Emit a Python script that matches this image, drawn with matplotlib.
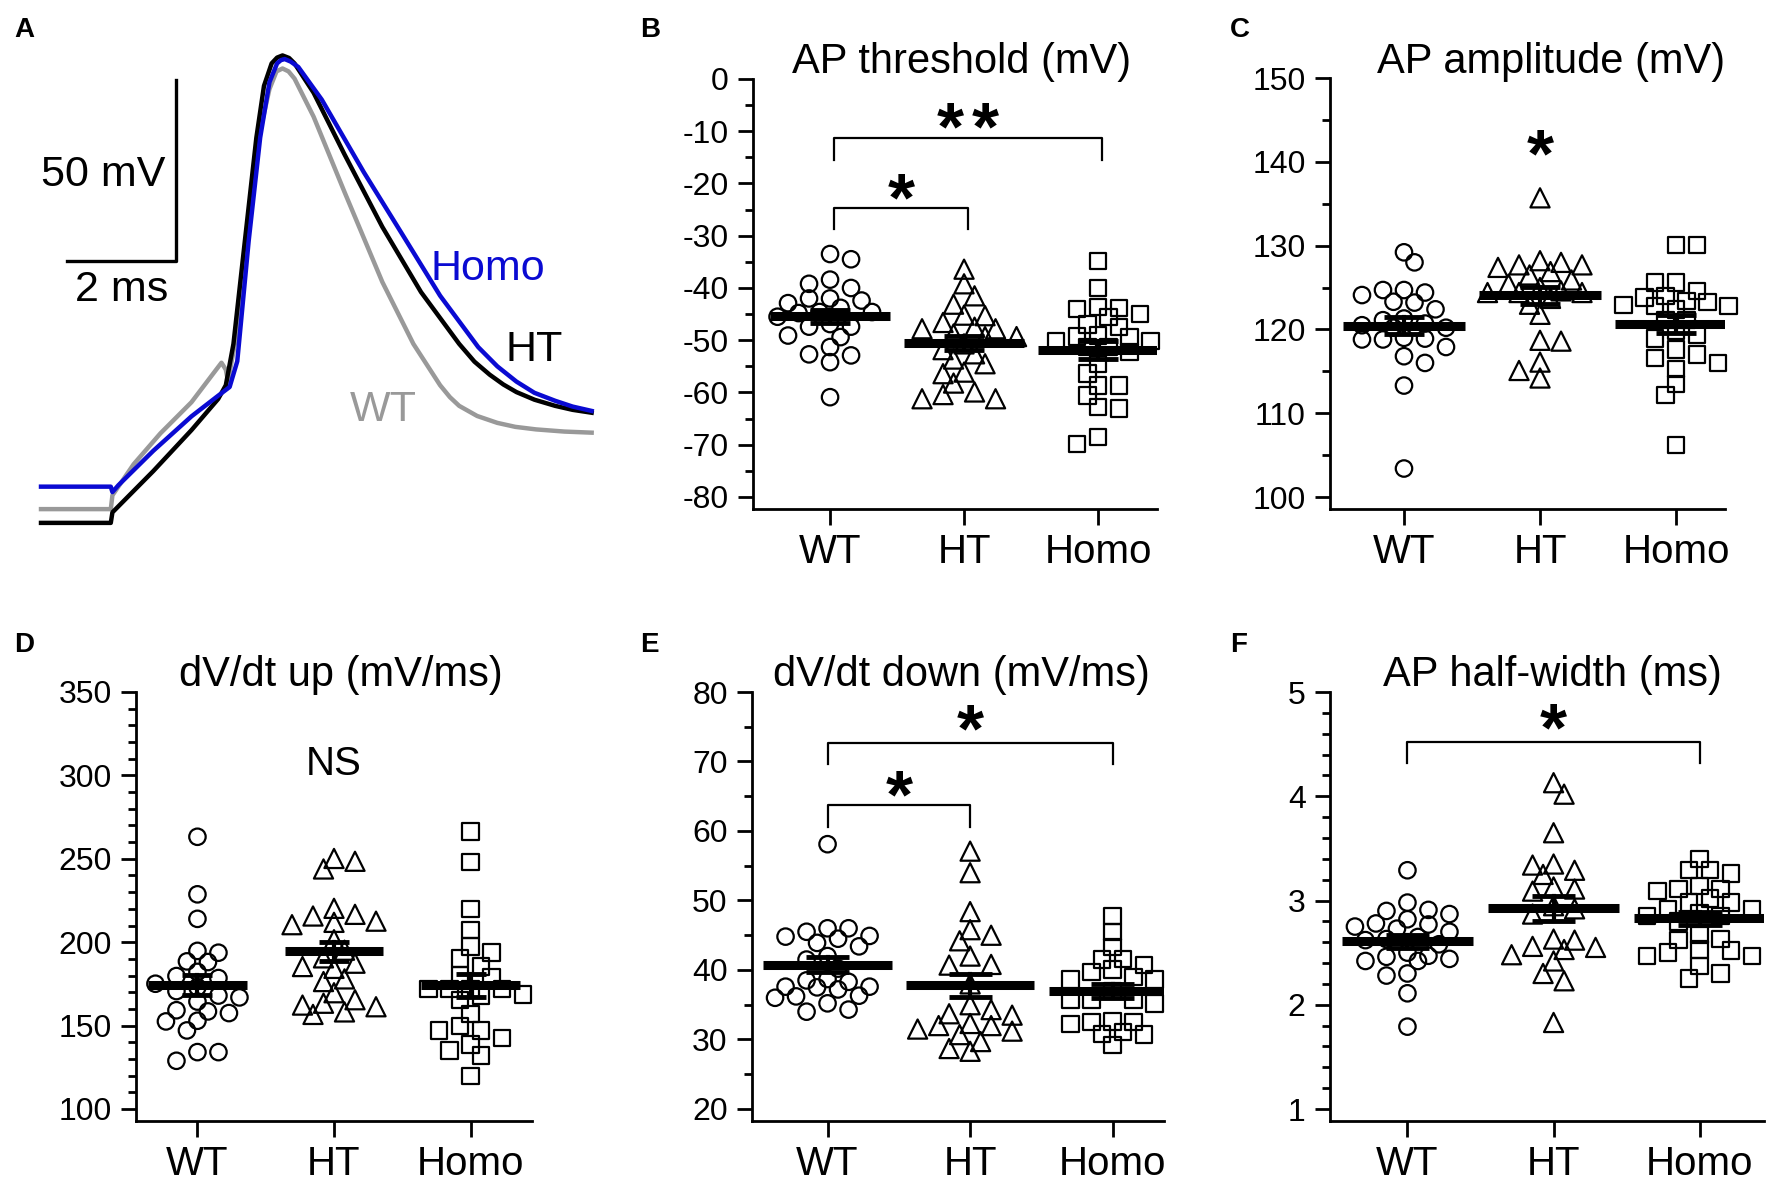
import numpy as np
import matplotlib
matplotlib.use('Agg')
import matplotlib.pyplot as plt
from matplotlib.ticker import MultipleLocator

plt.rcParams['font.family'] = ['Liberation Sans', 'DejaVu Sans']
plt.rcParams['axes.unicode_minus'] = False

W, H = 1775, 1187
groups = ['WT', 'HT', 'Homo']

# ---- panel A : averaged AP traces (ms, mV) ----
t_wt = [0, 1.28, 1.31, 1.70, 2.19, 2.76, 3.31, 3.39, 3.43, 3.60, 3.81, 4.02, 4.19, 4.32, 4.43, 4.54,
        4.65, 5.0, 5.57, 6.26, 6.83, 7.32, 7.50, 7.67, 8.0, 8.37, 8.7, 9.08, 9.6, 10.1]
v_wt = [-76.2, -76.2, -72.4, -63.8, -55.3, -46.7, -35.8, -37.7, -41.0, -26.8, 2.7, 28.2, 39.7, 44.6,
        45.4, 44.6, 42.6, 32.1, 11.2, -13.5, -30.6, -42.0, -45.3, -47.7, -50.5, -52.4, -53.5, -54.2,
        -54.8, -55.1]
t_ht = [0, 1.28, 1.31, 2.06, 2.76, 3.25, 3.39, 3.53, 3.74, 3.95, 4.09, 4.23, 4.33, 4.43, 4.55, 4.65,
        5.0, 5.57, 6.26, 6.97, 7.67, 7.95, 8.23, 8.48, 8.72, 9.05, 9.43, 9.75, 10.1]
v_ht = [-80, -80, -77.1, -65.7, -54.4, -45.8, -42.0, -30.6, -2.1, 26.3, 40.6, 46.8, 48.4, 49.0, 48.3,
        46.8, 38.7, 21.6, 1.7, -16.3, -30.6, -35.5, -39.1, -41.8, -43.9, -46.0, -47.7, -48.8, -49.6]
t_homo = [0, 1.28, 1.31, 1.42, 2.06, 2.76, 3.25, 3.46, 3.60, 3.81, 4.02, 4.19, 4.33, 4.40, 4.47, 4.58,
          4.72, 5.15, 5.92, 6.62, 7.32, 8.02, 8.37, 8.72, 9.05, 9.43, 9.75, 10.1]
v_homo = [-70.0, -70.0, -71.5, -69.6, -60.1, -50.6, -44.9, -42.5, -35.4, -2.1, 26.3, 41.6, 46.8, 47.7,
          48.0, 47.3, 45.8, 36.8, 16.8, -0.2, -17.3, -31.5, -36.8, -41.0, -44.1, -46.3, -47.9, -49.1]

# ---- panel B : AP threshold (mV) ----
thr_wt = [-33.5, -34.5, -38.4, -39.2, -40.0, -42.0, -42.0, -42.4, -42.9, -43.8, -44.8, -44.6, -44.6,
          -45.5, -47.4, -46.9, -47.4, -49.4, -49.1, -51.3, -52.7, -52.9, -54.2, -60.9]
thr_ht = [-36.4, -39.2, -41.5, -43.1, -45.2, -45.3, -46.6, -47.5, -47.8, -47.8, -48.8, -49.3, -49.3,
          -52.6, -53.6, -56.1, -56.4, -58.2, -60.4, -59.9, -61.2, -61.2, -50.7, -51.8, -54.5]
thr_homo = [-34.8, -40.0, -43.6, -43.8, -44.0, -45.6, -45.0, -47.0, -47.5, -50.1, -50.1, -49.4, -49.3,
            -49.1, -51.3, -52.3, -51.3, -54.5, -56.4, -58.7, -58.7, -60.6, -62.8, -63.1, -68.5, -69.9]

# ---- panel C : AP amplitude (mV) ----
amp_wt = [129.2, 128.0, 124.4, 124.1, 124.7, 124.7, 122.4, 123.2, 123.3, 120.7, 121.1, 120.5, 121.3,
          120.2, 118.8, 118.8, 120.2, 118.9, 119.0, 117.9, 116.0, 116.8, 113.3, 103.4]
amp_ht = [135.7, 127.4, 128.2, 127.7, 127.7, 128.0, 126.5, 126.9, 125.9, 125.0, 125.4, 124.4, 124.4,
          124.6, 124.4, 123.7, 123.0, 121.8, 118.6, 118.7, 116.1, 115.1, 114.2]
amp_homo = [130.1, 130.1, 125.6, 125.6, 124.6, 124.0, 123.8, 123.4, 122.8, 122.8, 123.3, 122.9, 122.4,
            121.1, 121.1, 119.8, 119.4, 118.9, 117.6, 116.6, 117.0, 116.0, 115.3, 113.5, 112.2, 106.2]

# ---- panel D : dV/dt up (mV/ms) ----
up_wt = [263.2, 228.7, 214.0, 194.8, 193.7, 188.1, 188.5, 173.0, 182.2, 179.7, 178.5, 170.7, 168.0,
         164.4, 166.9, 175.1, 159.2, 158.5, 157.5, 152.5, 152.9, 147.1, 134.1, 134.1, 128.9]
up_ht = [250.2, 248.5, 243.9, 220.3, 216.7, 215.7, 211.9, 210.5, 212.6, 201.5, 195.2, 190.6, 187.4,
         184.3, 185.4, 178.0, 176.4, 169.7, 165.5, 162.3, 163.4, 161.3, 158.2, 156.7]
up_homo = [266.3, 248.1, 219.9, 207.3, 197.3, 193.7, 190.2, 185.4, 180.1, 179.1, 171.8, 171.8, 171.8,
           171.8, 168.6, 168.0, 165.5, 157.1, 149.8, 147.1, 147.1, 142.5, 138.7, 135.1, 132.0, 119.9]

# ---- panel E : dV/dt down (mV/ms) ----
down_wt = [58.1, 46.0, 46.0, 44.8, 45.5, 44.5, 44.9, 43.9, 43.4, 42.0, 41.5, 40.2, 38.7, 38.3, 38.5,
           37.6, 37.6, 37.2, 37.5, 36.3, 36.2, 36.0, 35.2, 34.3, 34.0]
down_ht = [57.1, 54.0, 48.4, 45.8, 45.0, 44.2, 42.0, 40.8, 40.7, 38.0, 35.0, 34.3, 33.5, 33.7, 32.3,
           32.0, 32.0, 31.2, 31.5, 30.7, 29.7, 28.7, 28.3]
down_homo = [47.8, 45.5, 43.3, 41.5, 41.6, 40.1, 39.7, 40.7, 38.6, 38.6, 39.0, 35.7, 35.7, 35.2, 35.7,
             37.0, 32.5, 32.6, 32.2, 32.5, 30.7, 31.1, 30.8, 29.2]

# ---- panel F : AP half-width (ms) ----
hw_wt = [3.29, 2.98, 2.87, 2.91, 2.90, 2.82, 2.75, 2.77, 2.73, 2.78, 2.70, 2.65, 2.63, 2.58, 2.50,
         2.44, 2.47, 2.46, 2.42, 2.42, 2.30, 2.28, 2.11, 1.79, 2.62]
hw_ht = [4.13, 4.02, 3.65, 3.34, 3.35, 3.25, 3.29, 3.13, 3.11, 3.09, 2.95, 2.92, 2.87, 2.63, 2.62,
         2.55, 2.53, 2.56, 2.48, 2.42, 2.30, 2.23, 1.83]
hw_homo = [3.40, 3.29, 3.29, 3.26, 3.14, 3.09, 3.11, 3.11, 3.02, 2.98, 2.98, 2.92, 2.92, 2.88, 2.85,
           2.85, 2.80, 2.67, 2.63, 2.62, 2.52, 2.50, 2.53, 2.47, 2.47, 2.37, 2.30, 2.25]


fig = plt.figure(figsize=(W / 100, H / 100), dpi=100)


def rect(left, top, right, bottom):
    # pixel box -> figure fraction
    return [left / W, 1 - bottom / H, (right - left) / W, (bottom - top) / H]


def ftext(x, y, s, **kw):
    fig.text(x / W, 1 - y / H, s, **kw)


def swarm(ax, x0, vals, dist=14.0, step=10.5, maxoff=55.0):
    # spread points sideways (pixels) on a fixed grid so markers do not pile up;
    # past maxoff take the least crowded slot instead of going further out
    p0 = ax.transData.transform((0, 0))
    p1 = ax.transData.transform((1, 1))
    sx, sy = p1[0] - p0[0], p1[1] - p0[1]
    vals = np.asarray(vals, float)
    ys = vals * sy
    nmax = int(maxoff // step)
    slots = [0.0] + [s * k * step for k in range(1, nmax + 1) for s in (1, -1)]
    placed = []
    offs = np.zeros(len(vals))
    flip = 1
    for i in np.argsort(-vals):

        def gap(c):
            if not placed:
                return np.inf
            return min(np.hypot(c - px, ys[i] - py) for px, py in placed)

        hit = None
        for k in range(nmax + 1):
            cands = [0.0] if k == 0 else [flip * k * step, -flip * k * step]
            for c in cands:
                if gap(c) >= dist:
                    hit = c
                    break
            if hit is not None:
                break
        if hit is None:
            hit = max(slots, key=gap)
        if hit != 0:
            flip = -flip
        offs[i] = hit
        placed.append((hit, ys[i]))
    return x0 + offs / sx


def star(ax, x, y, fs=50):
    ax.annotate('*', (x, y), xytext=(0, -0.44 * fs), textcoords='offset points',
                ha='center', va='baseline', fontsize=fs, fontweight='bold', annotation_clip=False)


def bracket(ax, x0, x1, ytop, ylow):
    ax.plot([x0, x0, x1, x1], [ylow, ytop, ytop, ylow], color='k', lw=1.6, clip_on=False)


markers = [('o', 140), ('^', 190), ('s', 140)]


def dot_panel(box, xlim, ylim, major, minor, data, title, title_xy, bar=0.45, cap=0.15):
    ax = fig.add_axes(rect(*box))
    ax.set_xlim(xlim)
    ax.set_ylim(ylim)
    for sp in ['top', 'right']:
        ax.spines[sp].set_visible(False)
    for sp in ['left', 'bottom']:
        ax.spines[sp].set_linewidth(2.0)
    ax.yaxis.set_major_locator(MultipleLocator(major))
    ax.yaxis.set_minor_locator(MultipleLocator(minor))
    ax.set_xticks([0, 1, 2])
    ax.set_xticklabels(groups)
    ax.tick_params(axis='y', which='major', length=10.5, width=2, labelsize=23, pad=7)
    ax.tick_params(axis='y', which='minor', length=5.5, width=2)
    ax.tick_params(axis='x', length=11.5, width=2, labelsize=29, pad=6)
    for i, vals in enumerate(data):
        mk, s = markers[i]
        xs = swarm(ax, i, vals)
        ax.scatter(xs, vals, marker=mk, s=s, facecolors='none', edgecolors='k',
                   linewidths=1.6, zorder=2, clip_on=False)
        m = np.mean(vals)
        se = np.std(vals, ddof=1) / np.sqrt(len(vals))
        ax.plot([i - bar, i + bar], [m, m], color='k', lw=6.5, solid_capstyle='butt', zorder=3)
        ax.plot([i, i], [m - se, m + se], color='k', lw=3, zorder=3)
        for e in (m - se, m + se):
            ax.plot([i - cap, i + cap], [e, e], color='k', lw=3.5, solid_capstyle='butt', zorder=3)
    ftext(title_xy[0], title_xy[1], title, ha='center', va='baseline', fontsize=30)
    return ax


# ---- A ----
axA = fig.add_axes(rect(0, 0, 620, 620))
axA.set_xlim(-0.752, 10.62)
axA.set_ylim(-106.8, 64.3)
axA.axis('off')
blue = '#0a0ad2'
grey = '#999999'
axA.plot(t_wt, v_wt, color=grey, lw=3.2, solid_joinstyle='round')
axA.plot(t_ht, v_ht, color='black', lw=3.2, solid_joinstyle='round')
axA.plot(t_homo, v_homo, color=blue, lw=3.2, solid_joinstyle='round')
# scale bars: 2 ms, 50 mV
sb_t, sb_v = 2.48, -7.8
axA.plot([sb_t - 2, sb_t, sb_t], [sb_v, sb_v, sb_v + 50], color='k', lw=2.4)
axA.text(sb_t - 0.2, 13.1, '50 mV', ha='right', va='baseline', fontsize=31)
axA.text(sb_t - 1.0, -18.7, '2 ms', ha='center', va='baseline', fontsize=31)
axA.text(7.15, -13.0, 'Homo', color=blue, ha='left', va='baseline', fontsize=31)
axA.text(8.52, -35.3, 'HT', color='black', ha='left', va='baseline', fontsize=31)
axA.text(5.67, -52.0, 'WT', color=grey, ha='left', va='baseline', fontsize=31)

# ---- B ----
axB = dot_panel((753, 79, 1157, 509), (-0.575, 2.44), (-82.3, 0), 10, 5,
                [thr_wt, thr_ht, thr_homo], 'AP threshold (mV)', (962, 73))
bracket(axB, 0.03, 1.03, -24.6, -28.8)
bracket(axB, 0.03, 2.03, -11.3, -15.5)
star(axB, 0.53, -21.3)
star(axB, 0.9, -7.7)
star(axB, 1.16, -7.7)

# ---- C ----
axC = dot_panel((1330, 78, 1725, 509), (-0.544, 2.36), (98.57, 150), 10, 5,
                [amp_wt, amp_ht, amp_homo], 'AP amplitude (mV)', (1551, 73))
star(axC, 1.0, 141.9)

# ---- D ----
axD = dot_panel((136, 692, 532, 1121), (-0.45, 2.45), (92.8, 350), 50, 10,
                [up_wt, up_ht, up_homo], 'dV/dt up (mV/ms)', (341, 686), bar=0.36, cap=0.11)
axD.text(1.0, 306.7, 'NS', ha='center', va='center', fontsize=29)

# ---- E ----
axE = dot_panel((752, 692, 1164, 1121), (-0.53, 2.36), (18.27, 80), 10, 5,
                [down_wt, down_ht, down_homo], 'dV/dt down (mV/ms)', (961, 686))
bracket(axE, 0.0, 1.0, 63.8, 60.6)
bracket(axE, 0.0, 2.0, 72.7, 69.6)
star(axE, 0.5, 66.4)
star(axE, 1.0, 75.9)

# ---- F ----
axF = dot_panel((1330, 692, 1764, 1121), (-0.53, 2.44), (0.885, 5), 1, 0.2,
                [hw_wt, hw_ht, hw_homo], 'AP half-width (ms)', (1552, 686))
bracket(axF, 0.0, 2.0, 4.52, 4.32)
star(axF, 1.0, 4.73)

# panel letters
for lab, x, y in [('A', 14, 37), ('B', 640, 37), ('C', 1230, 37),
                  ('D', 14, 652), ('E', 640, 652), ('F', 1230, 652)]:
    ftext(x, y, lab, fontsize=20, fontweight='bold', ha='left', va='baseline')

fig.savefig('out.png', dpi=100)
